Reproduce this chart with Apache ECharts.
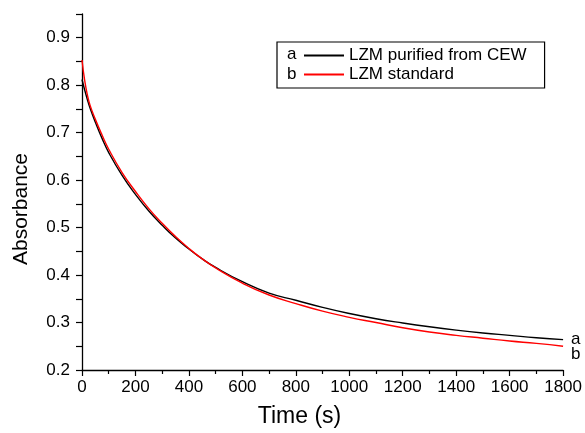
<!DOCTYPE html>
<html>
<head>
<meta charset="utf-8">
<script src="https://cdn.jsdelivr.net/npm/echarts@6/dist/echarts.min.js"></script>
<style>
html,body{margin:0;padding:0;background:#fff;}
#chart{width:585px;height:433px;}
</style>
</head>
<body>
<div id="chart"></div>
<script>
// Time (s)
var times = [0, 10, 20, 30, 50, 75, 100, 150, 200, 250, 300, 350, 400, 450, 500, 600, 700, 800, 900, 1000, 1100, 1200, 1300, 1400, 1500, 1600, 1700, 1800];
// a: LZM purified from CEW
var seriesA = [0.812, 0.790, 0.770, 0.752, 0.722, 0.688, 0.658, 0.610, 0.570, 0.535, 0.505, 0.478, 0.455, 0.434, 0.416, 0.386, 0.362, 0.347, 0.332, 0.319, 0.308, 0.299, 0.291, 0.284, 0.278, 0.273, 0.268, 0.264];
// b: LZM standard
var seriesB = [0.853, 0.810, 0.780, 0.758, 0.728, 0.695, 0.665, 0.616, 0.576, 0.540, 0.509, 0.481, 0.456, 0.434, 0.415, 0.383, 0.358, 0.340, 0.324, 0.311, 0.300, 0.289, 0.280, 0.273, 0.267, 0.261, 0.256, 0.250];
var seriesNames = ['LZM purified from CEW', 'LZM standard'];
var seriesTags = ['a', 'b'];

function pairs(xs, ys) { return xs.map(function (x, i) { return [x, ys[i]]; }); }

var FONT = '"Liberation Sans", Arial, sans-serif';
var chart = echarts.init(document.getElementById('chart'));
chart.setOption({
  animation: false,
  backgroundColor: '#fff',
  grid: { left: 82, right: 21, top: 14, bottom: 62, containLabel: false },
  legend: {
    orient: 'vertical',
    left: 277, top: 42,
    padding: [5, 18, 5, 26],
    itemGap: 2,
    itemWidth: 40, itemHeight: 14,
    borderColor: '#000', borderWidth: 1.2,
    itemStyle: { opacity: 0 },
    textStyle: { fontFamily: FONT, fontSize: 17, color: '#000' },
    data: seriesNames
  },
  graphic: [
    { type: 'text', left: 287, top: 46, style: { text: seriesTags[0], font: '17px ' + FONT, fill: '#000' } },
    { type: 'text', left: 287, top: 66, style: { text: seriesTags[1], font: '17px ' + FONT, fill: '#000' } }
  ],
  xAxis: {
    type: 'value', min: 0, max: 1800, interval: 200,
    name: 'Time (s)', nameLocation: 'middle', nameGap: 35,
    nameTextStyle: { fontFamily: FONT, fontSize: 23, color: '#000', padding: [0, 46, 0, 0] },
    axisLine: { show: true, onZero: false, lineStyle: { color: '#000', width: 1.3 } },
    axisTick: { show: true, inside: false, length: 6, lineStyle: { color: '#000', width: 1.2 } },
    minorTick: { show: true, splitNumber: 2, length: 4, lineStyle: { color: '#000', width: 1.2 } },
    axisLabel: { fontFamily: FONT, fontSize: 17, color: '#000', margin: 9, formatter: function (v) { return String(v); } },
    splitLine: { show: false }
  },
  yAxis: {
    type: 'value', min: 0.2, max: 0.95, interval: 0.05,
    name: 'Absorbance', nameLocation: 'middle', nameGap: 50,
    nameTextStyle: { fontFamily: FONT, fontSize: 21, color: '#000', padding: [0, 34, 0, 0] },
    axisLine: { show: true, onZero: false, lineStyle: { color: '#000', width: 1.3 } },
    axisTick: { show: true, inside: false, length: 6, lineStyle: { color: '#000', width: 1.2 } },
    axisLabel: {
      fontFamily: FONT, fontSize: 17, color: '#000', margin: 12,
      formatter: function (v) {
        var k = Math.round(v * 100);
        return (k % 10 === 0) ? (k / 100).toFixed(1) : '';
      }
    },
    splitLine: { show: false }
  },
  series: [
    {
      name: seriesNames[0], type: 'line', data: pairs(times, seriesA),
      symbol: 'none', smooth: true,
      lineStyle: { color: '#000', width: 1.4 }, itemStyle: { color: '#000' },
      endLabel: { show: true, formatter: seriesTags[0], distance: 8, fontFamily: FONT, fontSize: 17, color: '#000' }
    },
    {
      name: seriesNames[1], type: 'line', data: pairs(times, seriesB),
      symbol: 'none', smooth: true,
      lineStyle: { color: '#ff0000', width: 1.4 }, itemStyle: { color: '#ff0000' },
      endLabel: { show: true, formatter: seriesTags[1], distance: 8, offset: [0, 8], fontFamily: FONT, fontSize: 17, color: '#000' }
    }
  ]
});
</script>
</body>
</html>
